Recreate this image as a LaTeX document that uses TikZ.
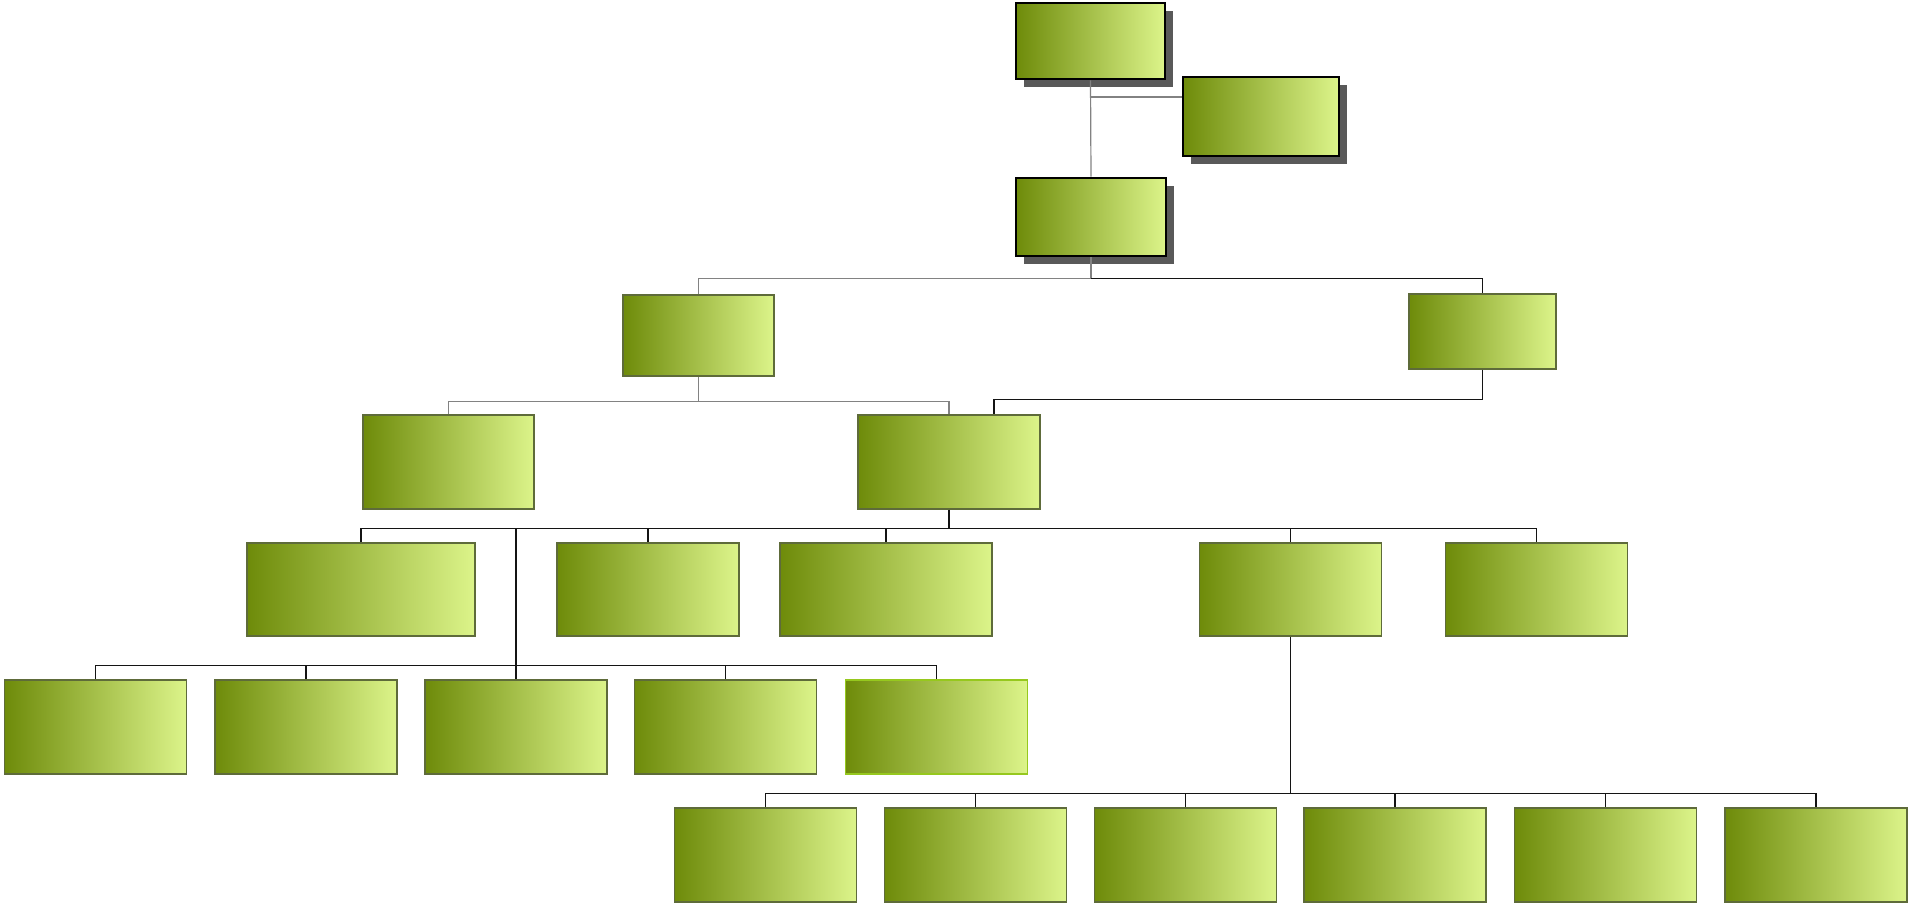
\documentclass[tikz,border=0pt]{standalone}
\usepackage{tikz}
\usetikzlibrary{shadows}
\definecolor{olivedark}{RGB}{110,139,10}
\definecolor{olivelight}{RGB}{220,244,138}
\definecolor{boxline}{RGB}{94,107,58}
\definecolor{limeline}{RGB}{150,200,30}
\definecolor{linegray}{RGB}{130,130,130}
\definecolor{linedark}{RGB}{20,20,20}

\begin{document}
\begin{tikzpicture}[x=0.5pt, y=-0.5pt,
	box/.style={rectangle, inner sep=0pt, left color=olivedark, right color=olivelight, draw=boxline, line width=0.6pt, minimum width=91pt, minimum height=47pt},
	topbox/.style={box, draw=black, line width=1.3pt, drop shadow={shadow xshift=4pt, shadow yshift=-4pt, fill=black!65, opacity=1}},
	gline/.style={draw=linegray, line width=0.6pt},
	dline/.style={draw=linedark, line width=0.7pt}]
		\useasboundingbox (0,0) rectangle (1908,905);
		% top of the chart
		\node[topbox, minimum width=74.5pt, minimum height=38pt] (ceo) at (1090.5,41) {};
		\node[topbox, minimum width=78pt, minimum height=39.5pt] (asst) at (1261,116.5) {};
		\node[topbox, minimum width=75pt, minimum height=39pt] (head) at (1091,217) {};
		\node[box, minimum width=75.5pt, minimum height=40.5pt] (left) at (698.5,335.5) {};
		\node[box, minimum width=73.5pt, minimum height=37.5pt] (right) at (1482.5,331.5) {};
		\node[box, minimum width=85.5pt] (sub1) at (448.5,462) {};
		\node[box] (sub2) at (949,462) {};
		% row under sub2
		\node[box, minimum width=114pt, minimum height=46.5pt] (a1) at (361,589.5) {};
		\node[box, minimum height=46.5pt] (a2) at (648,589.5) {};
		\node[box, minimum width=106pt, minimum height=46.5pt] (a3) at (886,589.5) {};
		\node[box, minimum height=46.5pt] (a4) at (1290.5,589.5) {};
		\node[box, minimum height=46.5pt] (a5) at (1536.5,589.5) {};
		\foreach \n/\x in {1/95.5,2/306,3/516,4/725.5}{
			\node[box] (b\n) at (\x,727) {};
		}
		\node[box, draw=limeline] (b5) at (936.5,727) {};
		\foreach \n/\x in {1/765.5,2/975.5,3/1185.5,4/1395,5/1605.5,6/1816}{
			\node[box] (c\n) at (\x,855) {};
		}
		% connectors
		\draw[gline] (ceo.south) -- (head.north);
		\draw[gline] (ceo.south |- 0,97) -- (asst.west |- 0,97);
		\draw[gline] (head.south) -- ++(0,21) coordinate (hb) -| (left.north);
		\draw[dline] (hb) -| (right.north);
		\draw[gline] (left.south) -- ++(0,25) coordinate (lb) -| (sub1.north);
		\draw[gline] (lb) -| (sub2.north);
		\draw[dline] (right.south) -- ++(0,30) -| ([xshift=22.5pt]sub2.north);
		\draw[dline] (sub2.south) -- ++(0,19) coordinate (mb);
		\foreach \n in {1,...,5}{
			\draw[dline] (mb) -| (a\n.north);
		}
		\draw[dline] (mb -| b3.north) -- (b3.north);
		\draw[dline] (b1.north) -- ++(0,-14) -| (b5.north);
		\foreach \n in {2,3,4}{
			\draw[dline] (b\n.north) -- ++(0,-14);
		}
		\draw[dline] (a4.south) -- ++(0,157) coordinate (db);
		\foreach \n in {1,...,6}{
			\draw[dline] (db) -| (c\n.north);
		}
	\end{tikzpicture}
\end{document}
